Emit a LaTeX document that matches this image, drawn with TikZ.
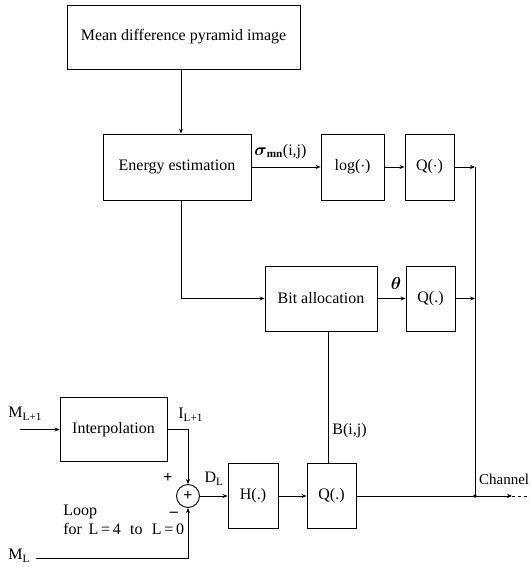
\documentclass[tikz,border=0pt]{standalone}
\usepackage{fontspec}
\setmainfont{Liberation Serif}
\usepackage{amsmath}
\usetikzlibrary{positioning,arrows.meta}

\begin{document}
\begin{tikzpicture}[x=1pt,y=-1pt,line width=0.8pt,
  font=\fontsize{16}{18}\selectfont,
  >={Stealth[length=5pt,width=4pt]},
  blk/.style={draw,line width=0.9pt,inner sep=0pt},
  lbl/.style={inner sep=1pt}]
\useasboundingbox (0,0) rectangle (530,567);
% blocks
\node[blk,minimum width=233pt,minimum height=64pt] (pyr) at (183.5,37) {Mean difference pyramid image};
\node[blk,minimum width=148pt,minimum height=66pt] (energy) at (177,167) {Energy estimation};
\node[blk,minimum width=63pt,minimum height=66pt] (logb) at (352.5,167) {log($\cdot$)};
\node[blk,minimum width=49pt,minimum height=66pt] (qlog) at (429.5,167) {Q($\cdot$)};
\node[blk,minimum width=112pt,minimum height=65pt] (bitalloc) at (321,298.5) {Bit allocation};
\node[blk,minimum width=49pt,minimum height=65pt] (qtheta) at (430.5,298.5) {Q(.)};
\node[blk,minimum width=107pt,minimum height=64pt] (interp) at (113.5,429.5) {Interpolation};
\node[draw,circle,line width=0.9pt,minimum size=23pt,inner sep=0pt] (sum) at (188,496) {\textbf{+}};
\node[blk,minimum width=50pt,minimum height=65pt] (hfilt) at (253,496) {H(.)};
\node[blk,minimum width=49pt,minimum height=65pt] (qout) at (331.5,496) {Q(.)};
% helper points
\coordinate (vx) at (181,0);
\coordinate (bx) at (328,0);
\coordinate (ch1) at (475,167);
\coordinate (ch2) at (475,298.5);
\coordinate (junc) at (475,496);
\coordinate (chtip) at (512,496);
\coordinate (chend) at (530,496);
\coordinate (min) at (20,429.5);
\coordinate (mlin) at (36,558);
% connectors
\draw[->] (pyr.south -| vx) -- (energy.north -| vx);
\draw[->] (energy.east) -- (logb.west);
\draw[->] (logb.east) -- (qlog.west);
\draw[->] (energy.south -| vx) |- (bitalloc.west);
\draw[->] (bitalloc.east) -- (qtheta.west);
\draw (bitalloc.south -| bx) -- (qout.north -| bx);
\draw[->] (qlog.east) -- (ch1);
\draw[->] (qtheta.east) -- (ch2);
\draw (ch1) -- (junc);
\fill (junc) circle (1.8pt);
\draw[->] (min) -- (interp.west);
\draw[->] (interp.east) -| (sum.north);
\draw[->] (mlin) -| (sum.south);
\draw[->] (sum.east) -- (hfilt.west);
\draw[->] (hfilt.east) -- (qout.west);
\draw[->] (qout.east) -- (chtip);
\draw[dashed] (chtip) -- (chend);
% labels
\node[lbl,anchor=south west] (sigl) at (253,160) {$\boldsymbol{\sigma}_{\mathbf{mn}}$(i,j)};
\node[lbl] (thetal) at (396,283) {$\boldsymbol{\theta}$};
\node[lbl,anchor=west] (bijl) at (331,431) {B(i,j)};
\node[anchor=east,inner sep=0pt,font=\fontsize{15}{17}\selectfont] (chl) at (529.5,479) {Channel};
\node[lbl,anchor=west] (ml1) at (7,414) {M\textsubscript{L+1}};
\node[lbl,anchor=west] (il1) at (177,415) {I\textsubscript{L+1}};
\node[lbl] (dl) at (214,479) {D\textsubscript{L}};
\node[lbl] (plus) at (168,478) {\textbf{+}};
\node[lbl] (minus) at (174,514) {\textbf{--}};
\node[lbl,anchor=west] (loopl) at (62,512) {Loop};
\node[lbl,anchor=west] (forl) at (62,529) {for\, L\,=\,4\,\, to\,\, L\,=\,0};
\node[lbl,anchor=west] (mll) at (7,556) {M\textsubscript{L}};
\end{tikzpicture}
\end{document}
